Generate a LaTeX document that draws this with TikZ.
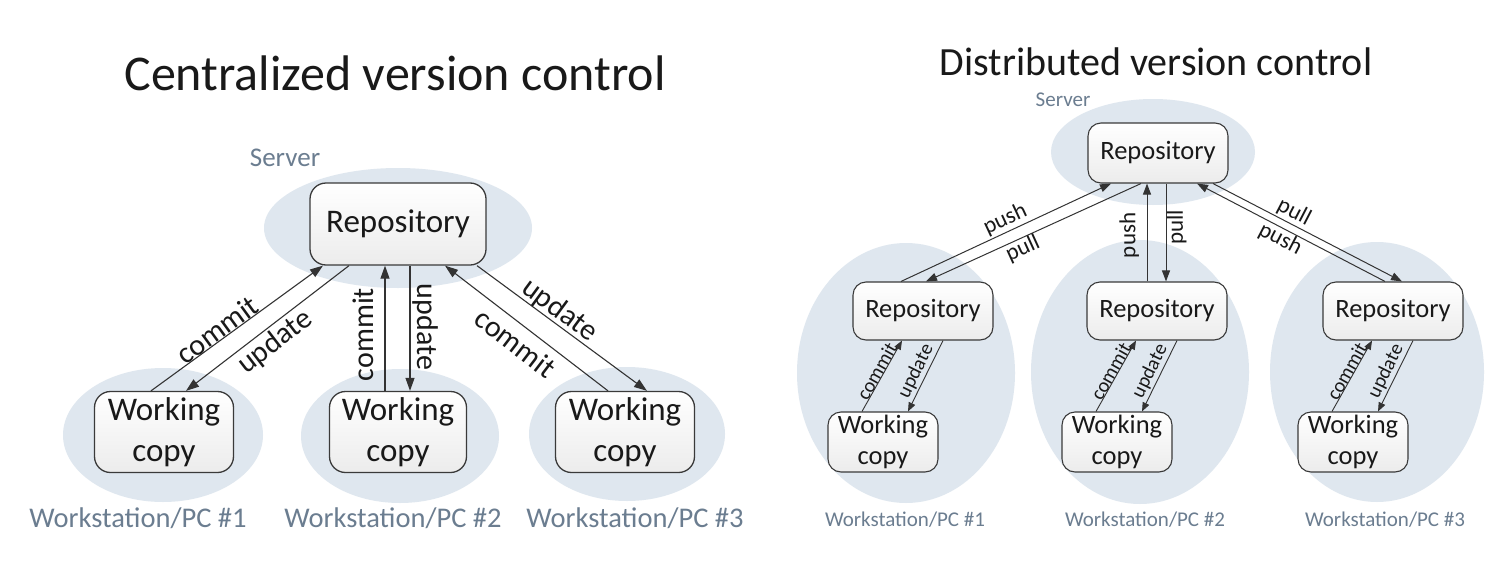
\documentclass[tikz,border=0pt]{standalone}
\usepackage{fontspec}
\setmainfont{Carlito}
\usetikzlibrary{arrows.meta,calc}
\definecolor{ell}{HTML}{DFE7EF}
\definecolor{lbl}{HTML}{6B7D90}
\definecolor{ln}{HTML}{333333}
\definecolor{bd}{HTML}{3A3A3A}
\begin{document}
\begin{tikzpicture}[x=1pt,y=-1pt,
  bg/.style={fill=ell,draw=none},
  boxbase/.style={draw=bd,top color=white,bottom color=gray!15,align=center,inner sep=0pt,text=black!90},
  boxL/.style={boxbase,line width=1.3pt,rounded corners=16pt,font=\fontsize{33}{41}\selectfont},
  boxR/.style={boxbase,line width=1.1pt,rounded corners=13pt,font=\fontsize{26.5}{31}\selectfont},
  arrL/.style={draw=ln,line width=1.1pt,-{Triangle[length=13pt,width=9pt]}},
  arrM/.style={draw=ln,line width=1pt,-{Triangle[length=11pt,width=8pt]}},
  arrS/.style={draw=ln,line width=0.9pt,-{Triangle[length=9pt,width=7pt]}},
  labL/.style={font=\fontsize{30}{36}\selectfont,text=black!90,inner sep=0pt},
  labM/.style={font=\fontsize{23}{28}\selectfont,text=black!90,inner sep=0pt},
  labS/.style={font=\fontsize{20}{24}\selectfont,text=black!90,inner sep=0pt},
  wsL/.style={font=\fontsize{28.5}{33}\selectfont,text=lbl},
  wsR/.style={font=\fontsize{21}{25}\selectfont,text=lbl},
]
\useasboundingbox (0,0) rectangle (1512,570);
\fill[white] (0,0) rectangle (1512,570);

% ---------- Left: centralized ----------
\node[font=\fontsize{50}{60}\selectfont,anchor=base,text=black!90] (t1) at (395,90) {Centralized version control};
\fill[bg] (398,228) ellipse [x radius=134pt,y radius=60pt];
\fill[bg] (163,435) ellipse [x radius=100pt,y radius=67pt];
\fill[bg] (400,436) ellipse [x radius=99pt,y radius=67pt];
\fill[bg] (627,434) ellipse [x radius=98pt,y radius=67pt];
\node[font=\fontsize{27}{32}\selectfont,text=lbl] (srvL) at (285,158) {Server};
\node[boxL,minimum width=176pt,minimum height=82pt] (LRepo) at (398,224) {Repository};
\node[boxL,minimum width=139pt,minimum height=81pt] (LW1) at (164,432) {Working\\copy};
\node[boxL,minimum width=137pt,minimum height=81pt] (LW2) at (398,432) {Working\\copy};
\node[boxL,minimum width=139pt,minimum height=81pt] (LW3) at (625,432) {Working\\copy};
\node[wsL] (wsl1) at (138,518) {Workstation/PC \#1};
\node[wsL] (wsl2) at (393,518) {Workstation/PC \#2};
\node[wsL] (wsl3) at (635,518) {Workstation/PC \#3};

\draw[arrL] ([xshift=-13pt]LW1.north) -- ([xshift=-75pt]LRepo.south)
  node[labL,pos=0.42,sloped,above,outer sep=0pt] {commit};
\draw[arrL] ([xshift=-49pt]LRepo.south) -- ([xshift=22pt]LW1.north)
  node[labL,pos=0.51,sloped,below,outer sep=3pt] {update};
\draw[arrL] ([xshift=-13pt]LW2.north) -- ([xshift=-13pt]LRepo.south)
  node[labL,pos=0.45,rotate=90,anchor=south,outer sep=11pt] {commit};
\draw[arrL] ([xshift=12pt]LRepo.south) -- ([xshift=12pt]LW2.north)
  node[labL,pos=0.49,rotate=-90,anchor=south,outer sep=3pt] {update};
\draw[arrL] ([xshift=-17pt]LW3.north) -- ([xshift=47pt]LRepo.south)
  node[labL,pos=0.5,sloped,below,outer sep=8pt] {commit};
\draw[arrL] ([xshift=79pt]LRepo.south) -- ([xshift=22pt]LW3.north)
  node[labL,pos=0.44,sloped,above,outer sep=0pt] {update};

% ---------- Right: distributed ----------
\node[font=\fontsize{40}{48}\selectfont,anchor=base,text=black!90] (t2) at (1156,75) {Distributed version control};
\fill[bg] (1153,152) ellipse [x radius=102pt,y radius=53pt];
\fill[bg] (906,373) ellipse [x radius=109pt,y radius=130pt];
\fill[bg] (1140,372) ellipse [x radius=109pt,y radius=132pt];
\fill[bg] (1377,372) ellipse [x radius=107pt,y radius=130pt];
\node[wsR] (srvR) at (1063,100) {Server};
\node[boxR,minimum width=140pt,minimum height=60pt] (RTop) at (1158,153) {Repository};
\node[boxR,minimum width=140pt,minimum height=58pt] (R1) at (923,311) {Repository};
\node[boxR,minimum width=140pt,minimum height=58pt] (R2) at (1157,311) {Repository};
\node[boxR,minimum width=140pt,minimum height=58pt] (R3) at (1393,311) {Repository};
\node[boxR,minimum width=110pt,minimum height=60pt] (W1) at (883,442) {Working\\copy};
\node[boxR,minimum width=110pt,minimum height=60pt] (W2) at (1117,442) {Working\\copy};
\node[boxR,minimum width=110pt,minimum height=60pt] (W3) at (1353,442) {Working\\copy};
\node[wsR] (wsr1) at (905,520) {Workstation/PC \#1};
\node[wsR] (wsr2) at (1145,520) {Workstation/PC \#2};
\node[wsR] (wsr3) at (1385,520) {Workstation/PC \#3};

\draw[arrM] ([xshift=-22pt]R1.north) -- ([xshift=-47pt]RTop.south)
  node[labM,pos=0.52,sloped,above,outer sep=2pt] {push};
\draw[arrM] ([xshift=-17pt]RTop.south) -- ([xshift=3pt]R1.north)
  node[labM,pos=0.57,sloped,below,outer sep=1pt] {pull};
\draw[arrM] ([xshift=-10pt]R2.north) -- ([xshift=-11pt]RTop.south)
  node[labM,pos=0.47,rotate=90,anchor=south,outer sep=8pt] {push};
\draw[arrM] ([xshift=8pt]RTop.south) -- ([xshift=9pt]R2.north)
  node[labM,pos=0.45,rotate=90,anchor=north,outer sep=1pt] {pull};
\draw[arrM] ([xshift=-8pt]R3.north) -- ([xshift=39pt]RTop.south)
  node[labM,pos=0.53,sloped,below,outer sep=1pt] {push};
\draw[arrM] ([xshift=55pt]RTop.south) -- ([xshift=9pt]R3.north)
  node[labM,pos=0.4,sloped,above,outer sep=2pt] {pull};

\foreach \w/\r in {W1/R1,W2/R2,W3/R3}{
  \draw[arrS] ([xshift=-21pt]\w.north) -- ([xshift=-21pt]\r.south)
    node[labS,pos=0.52,sloped,above,outer sep=0pt] {commit};
  \draw[arrS] ([xshift=20pt]\r.south) -- ([xshift=25pt]\w.north)
    node[labS,pos=0.5,sloped,above,outer sep=2pt] {update};
}
\end{tikzpicture}
\end{document}
